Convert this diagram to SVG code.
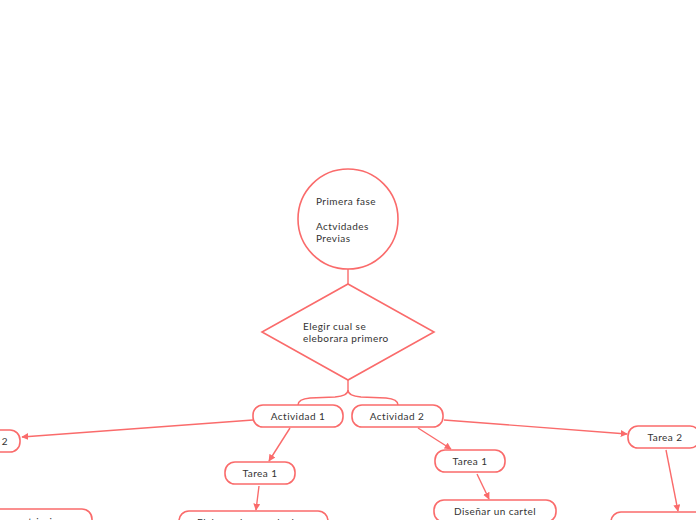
<svg xmlns="http://www.w3.org/2000/svg" width="696" height="520" viewBox="0 0 696 520">
<defs>
<style>
.n{fill:#fff;stroke:#fa6b6b;stroke-width:1.6}
.c{fill:none;stroke:#fa6b6b;stroke-width:1.4}
.t{font-family:Lato,"Open Sans","Noto Sans",sans-serif;font-size:10px;letter-spacing:0.45px;fill:#333}
.m{text-anchor:middle}
</style>
<marker id="ah" viewBox="0 0 10 10" refX="9" refY="5" markerWidth="7" markerHeight="7" orient="auto" markerUnits="userSpaceOnUse">
<path d="M0,0 L10,5 L0,10 z" fill="#fa6b6b"/>
</marker>
</defs>
<rect width="696" height="520" fill="#fff"/>
<g id="connectors">
<path class="c" d="M348,269 L348,284"/>
<path class="c" d="M348,380 L348,390 Q348,396 335,397 L310,398 Q298,399 298,405"/>
<path class="c" d="M348,390 Q348,396 361,397 L386,398 Q398,399 398,405"/>
<path class="c" marker-end="url(#ah)" d="M253,420 L22,437"/>
<path class="c" marker-end="url(#ah)" d="M290,428 L269,461"/>
<path class="c" marker-end="url(#ah)" d="M259,486 L256,510"/>
<path class="c" marker-end="url(#ah)" d="M418,428 L451,449"/>
<path class="c" marker-end="url(#ah)" d="M477,474 L489,499"/>
<path class="c" marker-end="url(#ah)" d="M444,420 L627,434"/>
<path class="c" marker-end="url(#ah)" d="M666,450 L678,511"/>
</g>
<g id="primera-fase">
<circle class="n" cx="348" cy="219" r="50"/>
<text class="t" x="316" y="205">Primera fase</text>
<text class="t" x="316" y="230">Actvidades</text>
<text class="t" x="316" y="242">Previas</text>
</g>
<g id="elegir">
<path class="n" d="M348,284 L434,332 L348,380 L262,332 Z"/>
<text class="t" x="303" y="330">Elegir cual se</text>
<text class="t" x="303" y="342">eleborara primero</text>
</g>
<g id="actividad1">
<rect class="n" x="253" y="405" width="90" height="22" rx="10"/>
<text class="t m" x="298" y="420">Actividad 1</text>
</g>
<g id="actividad2">
<rect class="n" x="352" y="405" width="91" height="22" rx="10"/>
<text class="t m" x="397" y="420">Actividad 2</text>
</g>
<g id="tarea2-left">
<rect class="n" x="-50" y="430" width="70" height="22" rx="10"/>
<text class="t" x="8" y="445" text-anchor="end">Tarea 2</text>
</g>
<g id="tarea1-left">
<rect class="n" x="225" y="462" width="70" height="22" rx="10"/>
<text class="t m" x="260" y="477">Tarea 1</text>
</g>
<g id="elaborar">
<rect class="n" x="179" y="511" width="149" height="22" rx="10"/>
<text class="t" x="197" y="526">Elaborar la agenda de</text>
</g>
<g id="restricciones">
<rect class="n" x="-60" y="509" width="152" height="22" rx="10"/>
<text class="t" x="75" y="525" text-anchor="end">y restricciones</text>
</g>
<g id="tarea1-right">
<rect class="n" x="435" y="450" width="70" height="22" rx="10"/>
<text class="t m" x="470" y="465">Tarea 1</text>
</g>
<g id="disenar">
<rect class="n" x="434" y="500" width="122" height="22" rx="10"/>
<text class="t m" x="495" y="515">Diseñar un cartel</text>
</g>
<g id="tarea2-right">
<rect class="n" x="628" y="426" width="72" height="22" rx="10"/>
<text class="t m" x="665" y="441">Tarea 2</text>
</g>
<g id="right-bottom">
<rect class="n" x="611" y="512" width="100" height="22" rx="10"/>
</g>
</svg>
